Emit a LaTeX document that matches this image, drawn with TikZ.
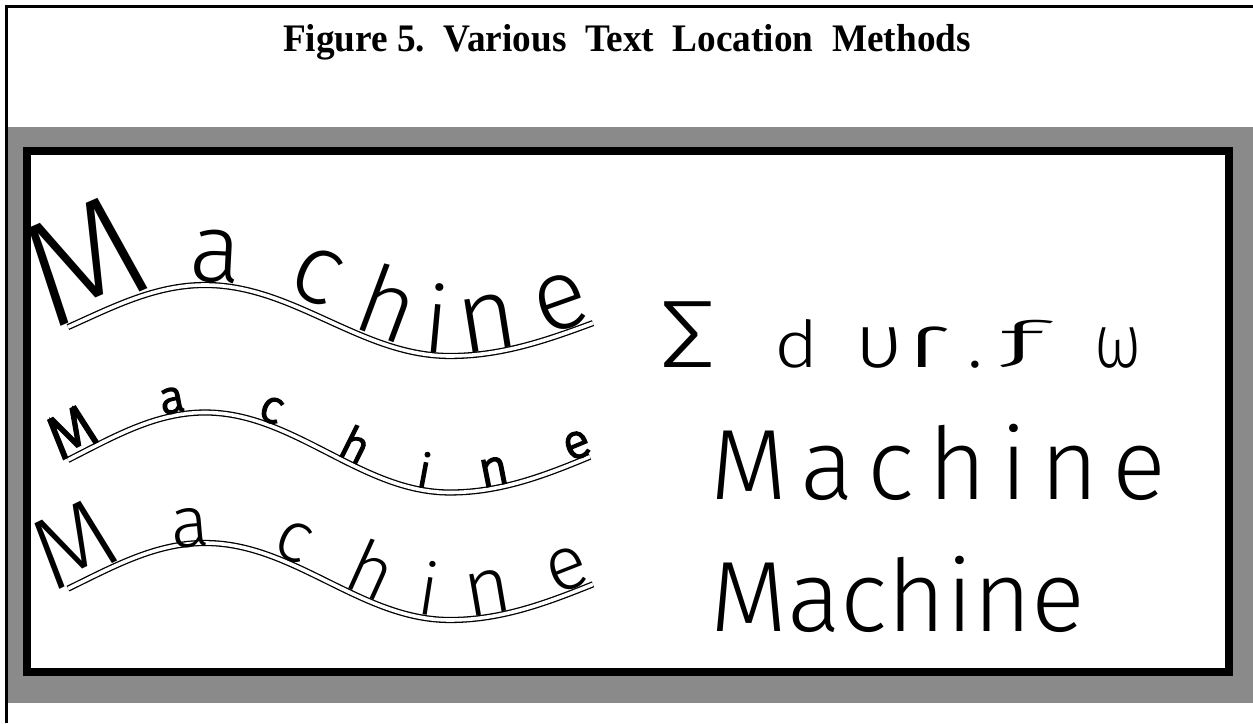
\documentclass[tikz,border=0pt]{standalone}
\usepackage{fontspec}
\setmainfont{Liberation Serif}
\newfontfamily\wfont{Fira Sans Light}
\newfontfamily\wboldfont{Fira Sans Light}[FakeBold=4]
\newcommand{\wavechar}[7]{% #1 name, #2 x, #3 C, #4 A, #5 font, #6 char, #7 raise
  \pgfmathsetmacro{\waveang}{atan(-#4*sin(wphi(#2))*wdphi(#2)*pi/180)}%
  \pgfmathsetmacro{\wavey}{#3+#4*cos(wphi(#2))+#7*cos(\waveang)}%
  \pgfmathsetmacro{\wavex}{#2-#7*sin(\waveang)}%
  \node[wl, rotate=\waveang, font=#5] (#1) at (\wavex,\wavey) {#6};%
}
\begin{document}
\begin{tikzpicture}[x=1pt,y=1pt,
  declare function={wphi(\x)=(\x<450)*0.735*(\x-205)+(\x>=450)*(180+0.6*(\x-450));
                    wdphi(\x)=(\x<450)*0.735+(\x>=450)*0.6;},
  wave/.style={draw=black, double=white, double distance=3.6pt, line width=1.3pt},
  wl/.style={inner sep=0pt, anchor=base, text=black},
  band/.style={fill=black!46, draw=none},
  frame/.style={draw=black, line width=8pt, fill=white},
  edge/.style={draw=black, line width=3pt},
  plain/.style={inner sep=0pt, anchor=base west, text=black},
  symb/.style={inner sep=0pt, anchor=base, text=black, font=\wfont\fontsize{76}{76}\selectfont},
]
\useasboundingbox (0,0) rectangle (1253,723);
% grey band and framed white panel
\path[band] (8,20) rectangle (1253,596);
\path[frame] (27,51) rectangle (1229,572);
% page edges
\draw[edge] (6,0) -- (6,716) -- (1253,716);
% title
\node[font=\bfseries\fontsize{39}{39}\selectfont, inner sep=0pt, xscale=0.955] (title) at (627,681) {Figure 5.\ \ Various\ \ Text\ \ Location\ \ Methods};
% wavy base lines
\draw[wave] plot[domain=68:593, samples=140, smooth] (\x, {402.5+35.5*cos(wphi(\x))});
\draw[wave] plot[domain=68:590, samples=140, smooth] (\x, {270.5+40*cos(wphi(\x))});
\draw[wave] plot[domain=68:593, samples=140, smooth] (\x, {141.5+38.5*cos(wphi(\x))});
% top wavy Machine
\wavechar{ta}{106}{402.5}{35.5}{\wfont\fontsize{150}{150}\selectfont}{M}{3}
\wavechar{tb}{214}{402.5}{35.5}{\wfont\fontsize{97}{97}\selectfont}{a}{3}
\wavechar{tc}{302}{402.5}{35.5}{\wfont\fontsize{100}{100}\selectfont}{c}{10}
\wavechar{td}{375}{402.5}{35.5}{\wfont\fontsize{96}{96}\selectfont}{h}{5}
\wavechar{te}{434}{402.5}{35.5}{\wfont\fontsize{92}{92}\selectfont}{i}{3}
\wavechar{tf}{492}{402.5}{35.5}{\wfont\fontsize{102}{102}\selectfont}{n}{3}
\wavechar{tg}{571}{402.5}{35.5}{\wfont\fontsize{100}{100}\selectfont}{e}{4}
% middle wavy Machine
\wavechar{ma}{82}{270.5}{40}{\wboldfont\fontsize{60}{60}\selectfont}{M}{3}
\wavechar{mb}{175}{270.5}{40}{\wboldfont\fontsize{46}{46}\selectfont}{a}{3}
\wavechar{mc}{266}{270.5}{40}{\wboldfont\fontsize{46}{46}\selectfont}{c}{3}
\wavechar{md}{347}{270.5}{40}{\wboldfont\fontsize{46}{46}\selectfont}{h}{3}
\wavechar{me}{421}{270.5}{40}{\wboldfont\fontsize{46}{46}\selectfont}{i}{3}
\wavechar{mf}{497}{270.5}{40}{\wboldfont\fontsize{50}{50}\selectfont}{n}{3}
\wavechar{mg}{583}{270.5}{40}{\wboldfont\fontsize{48}{48}\selectfont}{e}{3}
% bottom wavy Machine
\wavechar{ba}{90}{141.5}{38.5}{\wfont\fontsize{102}{102}\selectfont}{M}{3}
\wavechar{bb}{191}{141.5}{38.5}{\wfont\fontsize{72}{72}\selectfont}{a}{-3}
\wavechar{bc}{285}{141.5}{38.5}{\wfont\fontsize{72}{72}\selectfont}{c}{3}
\wavechar{bd}{360}{141.5}{38.5}{\wfont\fontsize{74}{74}\selectfont}{h}{3}
\wavechar{be}{425}{141.5}{38.5}{\wfont\fontsize{72}{72}\selectfont}{i}{3}
\wavechar{bf}{492}{141.5}{38.5}{\wfont\fontsize{80}{80}\selectfont}{n}{3}
\wavechar{bg}{576}{141.5}{38.5}{\wfont\fontsize{76}{76}\selectfont}{e}{3}
% symbol line
\node[symb, font=\wfont\fontsize{96}{96}\selectfont, xscale=1.2] (s1) at (688,355) {Σ};
\node[symb, yscale=0.85] (s2) at (797,355) {d};
\node[symb, xscale=1.15] (s3) at (879,355) {υ};
\node[symb, xscale=1.7] (s4) at (928,355) {ɾ};
\node[symb] (s5) at (975,355) {.};
\node[symb, anchor=south, xscale=1.9, yscale=0.66] (s6) at (1022,355) {ƒ};
\node[symb, xscale=0.8] (s7) at (1118,355) {ω};
% right Machine texts
\node[plain, font=\wfont\fontsize{100}{100}\selectfont\addfontfeature{LetterSpace=13.5}] (rm1) at (710,223) {Machine};
\node[plain, font=\wfont\fontsize{100}{100}\selectfont] (rm2) at (710,91) {Machine};
\end{tikzpicture}
\end{document}
